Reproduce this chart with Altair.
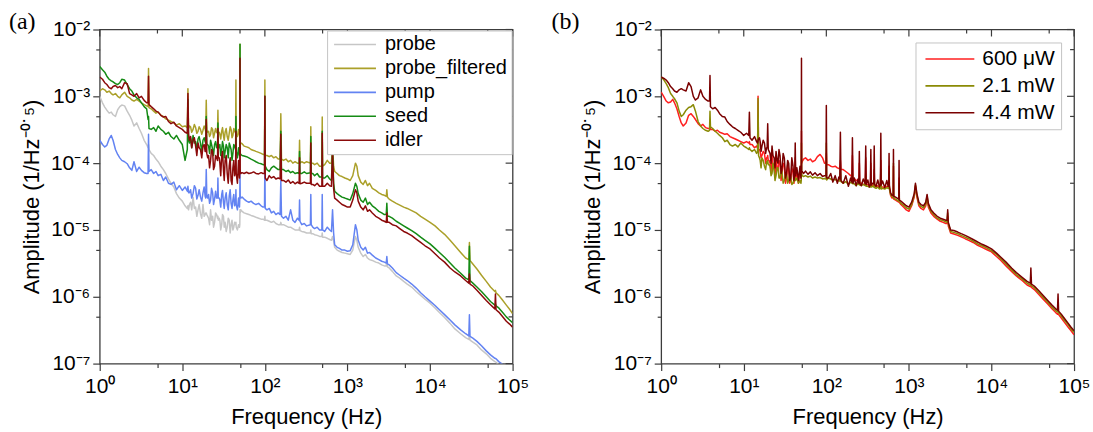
import altair as alt
import pandas as pd

# ---------------- panel (a) data ----------------
FREQ_A = [
    1, 1.08, 1.15, 1.22, 1.3, 1.38, 1.45, 1.55, 1.65, 1.75, 1.85, 2.0, 2.15, 2.3, 2.45, 2.6, 2.8, 3.0, 3.2, 3.45, 3.7,
    3.85, 3.9, 3.95,
    4.2, 4.5, 4.8, 5.1, 5.5, 5.9, 6.3, 6.8, 7.3, 7.9, 8.5, 9.2, 10, 10.8,
    11.5, 11.7, 11.9,
    12.2, 12.6, 13.0, 13.5, 14.0, 14.5, 15.0, 15.5, 16.0, 16.6, 17.2, 17.8, 18.4, 18.9,
    19.2, 19.5, 19.8,
    20.3, 20.8, 21.4, 22, 22.6, 23.3, 23.9, 24.6, 25.3, 26,
    26.7, 27, 27.3,
    28, 28.5, 29.2, 30, 30.7, 31.5, 32.2, 33, 34, 35, 36, 37, 38, 39, 40, 41, 42, 43,
    44.2, 44.6, 45,
    46.5, 48, 49.3,
    49.7, 50, 50.3,
    51, 53, 56, 60, 64, 68, 73, 78, 84, 90, 95,
    99, 100, 101,
    106, 113, 120, 128, 136, 145,
    153, 156, 159,
    168, 180, 192, 205, 218, 232, 248,
    260, 263, 266,
    280, 300, 320,
    356, 360, 364,
    380, 400, 430, 460,
    490, 495, 500,
    530, 570, 610,
    640, 660, 680,
    700, 750, 800, 860, 930, 1000, 1080, 1160, 1250,
    1300, 1350, 1450, 1550, 1650, 1750, 1850, 2000, 2200, 2400, 2600, 2800,
    2950, 3000, 3050,
    3200, 3500, 3900, 4300, 4800, 5300, 6000, 6800, 7700, 8700, 10000, 11500, 13000, 15000, 17500, 20000, 23500, 27000,
    29500, 30000, 30500,
    33000, 37000, 42000, 48000, 54000,
    61000, 62000, 63000,
    68000, 75000, 84000, 92000, 100000,
]

PROBE = [
    1.0e-3, 8.0e-4, 6.9e-4, 6.2e-4, 5.6e-4, 5.8e-4, 5.3e-4, 5.0e-4, 6.3e-4, 7.0e-4, 7.4e-4, 7.2e-4, 6.0e-4, 5.2e-4, 4.4e-4, 3.6e-4, 4.0e-4, 3.3e-4, 2.8e-4, 2.2e-4, 1.9e-4,
    1.7e-4, 1.9e-4, 1.6e-4,
    1.4e-4, 1.3e-4, 1.15e-4, 1.05e-4, 9.0e-5, 8.0e-5, 7.0e-5, 5.8e-5, 5.0e-5, 4.4e-5, 3.5e-5, 3.0e-5, 2.7e-5, 2.3e-5,
    2.1e-5, 2.3e-5, 2.0e-5,
    2.4e-5, 2.6e-5, 2.0e-5, 3.1e-5, 2.1e-5, 2.2e-5, 1.6e-5, 2.0e-5, 2.4e-5, 1.75e-5, 1.5e-5, 2.4e-5, 1.6e-5, 1.7e-5,
    1.8e-5, 1.8e-5, 1.7e-5,
    1.6e-5, 1.5e-5, 1.2e-5, 2.0e-5, 1.4e-5, 1.6e-5, 1.1e-5, 1.3e-5, 1.8e-5, 1.7e-5,
    1.5e-5, 1.6e-5, 1.4e-5,
    1.5e-5, 1.4e-5, 1.0e-5, 1.2e-5, 1.7e-5, 1.6e-5, 1.1e-5, 1.3e-5, 9.5e-6, 1.1e-5, 1.5e-5, 1.4e-5, 9.0e-6, 1.2e-5, 1.4e-5, 1.0e-5, 1.1e-5, 1.3e-5,
    1.2e-5, 1.3e-5, 1.1e-5,
    1.0e-5, 1.2e-5, 1.1e-5,
    1.2e-5, 2.0e-5, 1.8e-5,
    2.0e-5, 1.9e-5, 1.8e-5, 1.75e-5, 1.7e-5, 1.65e-5, 1.6e-5, 1.55e-5, 1.5e-5, 1.45e-5, 1.45e-5,
    1.4e-5, 1.6e-5, 1.4e-5,
    1.4e-5, 1.35e-5, 1.3e-5, 1.35e-5, 1.25e-5, 1.2e-5,
    1.2e-5, 1.3e-5, 1.2e-5,
    1.2e-5, 1.15e-5, 1.1e-5, 1.1e-5, 1.05e-5, 1.0e-5, 1.0e-5,
    1.0e-5, 1.1e-5, 9.8e-6,
    9.5e-6, 9.3e-6, 9.0e-6,
    9.0e-6, 1.0e-5, 8.8e-6,
    8.8e-6, 8.5e-6, 8.3e-6, 8.0e-6,
    8.0e-6, 9.0e-6, 7.8e-6,
    7.8e-6, 7.5e-6, 7.2e-6,
    7.0e-6, 8.0e-6, 6.8e-6,
    5.5e-6, 5.0e-6, 4.8e-6, 4.6e-6, 4.5e-6, 4.4e-6, 4.3e-6, 5.0e-6, 8.0e-6,
    7.0e-6, 5.5e-6, 4.5e-6, 4.0e-6, 4.3e-6, 3.8e-6, 3.6e-6, 3.5e-6, 3.3e-6, 3.2e-6, 3.0e-6, 2.9e-6,
    2.9e-6, 3.5e-6, 2.8e-6,
    2.7e-6, 2.4e-6, 2.05e-6, 1.9e-6, 1.7e-6, 1.55e-6, 1.4e-6, 1.2e-6, 1.05e-6, 9.2e-7, 8.0e-7, 6.8e-7, 5.8e-7, 4.9e-7, 4.0e-7, 3.3e-7, 2.8e-7, 2.45e-7,
    2.3e-7, 2.6e-7, 2.25e-7,
    2.1e-7, 1.9e-7, 1.6e-7, 1.4e-7, 1.2e-7,
    1.07e-7, 1.06e-7, 1.05e-7,
    9.6e-8, 8.8e-8, 7.9e-8, 7.2e-8, 6.6e-8,
]

PROBE_FILTERED = [
    1.2e-3, 1.3e-3, 1.25e-3, 1.15e-3, 1.2e-3, 1.1e-3, 1.05e-3, 1.1e-3, 1.0e-3, 9.5e-4, 1.05e-3, 1.15e-3, 1.0e-3, 9.5e-4, 8.8e-4, 8.5e-4, 9.0e-4, 8.5e-4, 8.0e-4, 7.5e-4, 7.2e-4,
    7.0e-4, 2.6e-3, 6.8e-4,
    6.5e-4, 6.0e-4, 5.6e-4, 5.8e-4, 5.2e-4, 5.0e-4, 4.6e-4, 4.4e-4, 4.2e-4, 4.0e-4, 3.7e-4, 3.9e-4, 3.5e-4, 3.6e-4,
    3.4e-4, 1.3e-3, 3.3e-4,
    3.6e-4, 3.5e-4, 2.9e-4, 3.2e-4, 3.8e-4, 3.4e-4, 2.8e-4, 3.0e-4, 3.5e-4, 3.2e-4, 2.7e-4, 3.1e-4, 3.6e-4, 3.3e-4,
    3.0e-4, 8.7e-4, 3.1e-4,
    2.9e-4, 3.0e-4, 2.5e-4, 2.7e-4, 3.4e-4, 3.2e-4, 2.4e-4, 2.8e-4, 3.3e-4, 2.9e-4,
    2.8e-4, 6.2e-4, 2.9e-4,
    2.9e-4, 2.7e-4, 2.3e-4, 3.0e-4, 3.4e-4, 2.6e-4, 2.2e-4, 2.9e-4, 3.3e-4, 2.5e-4, 2.2e-4, 2.8e-4, 3.5e-4, 3.2e-4, 2.4e-4, 2.6e-4, 3.3e-4, 3.0e-4,
    2.8e-4, 1.75e-3, 2.7e-4,
    2.5e-4, 3.2e-4, 2.6e-4,
    2.8e-4, 6.0e-3, 2.0e-4,
    2.0e-4, 1.95e-4, 1.8e-4, 1.75e-4, 1.7e-4, 1.6e-4, 1.55e-4, 1.5e-4, 1.45e-4, 1.4e-4, 1.35e-4,
    1.35e-4, 1.75e-3, 1.3e-4,
    1.3e-4, 1.25e-4, 1.3e-4, 1.2e-4, 1.25e-4, 1.15e-4,
    1.15e-4, 5.5e-4, 1.15e-4,
    1.1e-4, 1.15e-4, 1.05e-4, 1.1e-4, 1.0e-4, 1.05e-4, 1.0e-4,
    1.0e-4, 2.2e-4, 1.0e-4,
    1.05e-4, 1.0e-4, 1.05e-4,
    1.0e-4, 3.5e-4, 1.0e-4,
    1.0e-4, 9.5e-5, 1.0e-4, 9.0e-5,
    9.0e-5, 4.9e-4, 9.0e-5,
    9.5e-5, 1.1e-4, 1.0e-4,
    1.0e-4, 1.9e-4, 9.0e-5,
    7.5e-5, 7.0e-5, 6.5e-5, 6.3e-5, 6.0e-5, 5.8e-5, 5.5e-5, 6.5e-5, 1.0e-4,
    9.0e-5, 6.5e-5, 5.2e-5, 4.8e-5, 5.5e-5, 4.6e-5, 5.0e-5, 4.2e-5, 3.9e-5, 3.6e-5, 3.4e-5, 3.3e-5,
    3.2e-5, 4.0e-5, 3.1e-5,
    2.9e-5, 2.7e-5, 2.5e-5, 2.35e-5, 2.2e-5, 2.1e-5, 1.95e-5, 1.8e-5, 1.6e-5, 1.45e-5, 1.3e-5, 1.15e-5, 1.0e-5, 8.6e-6, 7.0e-6, 5.8e-6, 4.6e-6, 3.8e-6,
    3.6e-6, 6.5e-6, 3.5e-6,
    3.1e-6, 2.6e-6, 2.1e-6, 1.7e-6, 1.4e-6,
    1.2e-6, 1.25e-6, 1.15e-6,
    1.05e-6, 9.0e-7, 7.5e-7, 6.5e-7, 5.6e-7,
]

PUMP = [
    2.2e-4, 1.9e-4, 1.75e-4, 1.85e-4, 2.3e-4, 2.6e-4, 2.2e-4, 1.6e-4, 1.35e-4, 1.2e-4, 1.1e-4, 1.05e-4, 9.8e-5, 8.5e-5, 7.8e-5, 1.05e-4, 7.5e-5, 8.7e-5, 7.8e-5, 7.2e-5, 7.0e-5,
    7.0e-5, 2.7e-4, 7.5e-5,
    8.0e-5, 7.0e-5, 7.5e-5, 6.5e-5, 6.8e-5, 5.5e-5, 6.2e-5, 5.0e-5, 4.8e-5, 5.2e-5, 4.0e-5, 4.6e-5, 3.9e-5, 4.4e-5,
    3.8e-5, 4.5e-5, 3.6e-5,
    3.6e-5, 4.0e-5, 3.0e-5, 3.5e-5, 4.6e-5, 4.2e-5, 2.9e-5, 3.3e-5, 4.0e-5, 3.1e-5, 2.7e-5, 3.6e-5, 4.4e-5, 3.2e-5,
    3.0e-5, 8.0e-5, 3.2e-5,
    3.0e-5, 3.4e-5, 2.5e-5, 2.8e-5, 4.2e-5, 3.6e-5, 2.4e-5, 2.9e-5, 3.8e-5, 3.0e-5,
    3.0e-5, 6.0e-5, 3.0e-5,
    3.0e-5, 2.8e-5, 2.2e-5, 3.4e-5, 3.9e-5, 2.6e-5, 2.1e-5, 3.0e-5, 3.6e-5, 2.4e-5, 2.0e-5, 3.2e-5, 4.0e-5, 2.5e-5, 2.1e-5, 2.8e-5, 3.4e-5, 2.3e-5,
    2.6e-5, 4.0e-5, 2.4e-5,
    2.0e-5, 3.0e-5, 2.2e-5,
    3.0e-5, 8.0e-5, 3.2e-5,
    3.0e-5, 3.1e-5, 2.9e-5, 2.7e-5, 2.6e-5, 2.7e-5, 2.5e-5, 2.4e-5, 2.5e-5, 2.3e-5, 2.2e-5,
    2.2e-5, 1.0e-4, 2.1e-5,
    2.0e-5, 2.1e-5, 1.8e-5, 1.9e-5, 1.7e-5, 1.8e-5,
    1.7e-5, 5.5e-5, 1.6e-5,
    1.5e-5, 1.6e-5, 1.4e-5, 2.0e-5, 1.4e-5, 1.3e-5, 1.5e-5,
    1.4e-5, 2.8e-5, 1.35e-5,
    1.2e-5, 1.25e-5, 1.15e-5,
    1.2e-5, 3.4e-5, 1.2e-5,
    1.1e-5, 1.05e-5, 1.1e-5, 1.0e-5,
    1.0e-5, 3.4e-5, 1.0e-5,
    9.5e-6, 1.1e-5, 1.0e-5,
    9.5e-6, 2.0e-5, 9.0e-6,
    6.0e-6, 5.5e-6, 5.3e-6, 5.0e-6, 5.0e-6, 4.8e-6, 4.9e-6, 6.0e-6, 1.2e-5,
    1.0e-5, 7.0e-6, 5.5e-6, 5.0e-6, 5.5e-6, 4.5e-6, 4.6e-6, 4.2e-6, 3.8e-6, 3.6e-6, 3.4e-6, 3.3e-6,
    3.2e-6, 4.0e-6, 3.1e-6,
    3.0e-6, 2.7e-6, 2.3e-6, 2.1e-6, 1.9e-6, 1.75e-6, 1.55e-6, 1.35e-6, 1.15e-6, 1.0e-6, 8.6e-7, 7.4e-7, 6.4e-7, 5.4e-7, 4.5e-7, 3.8e-7, 3.2e-7, 2.8e-7,
    2.6e-7, 5.4e-7, 2.55e-7,
    2.4e-7, 2.15e-7, 1.85e-7, 1.55e-7, 1.35e-7,
    1.2e-7, 1.19e-7, 1.18e-7,
    1.07e-7, 9.8e-8, 8.8e-8, 8.0e-8, 7.4e-8,
]

SEED = [
    2.8e-3, 2.5e-3, 2.3e-3, 2.0e-3, 1.8e-3, 1.7e-3, 1.65e-3, 1.55e-3, 1.5e-3, 1.6e-3, 1.8e-3, 1.75e-3, 1.5e-3, 1.3e-3, 1.2e-3, 1.05e-3, 9.5e-4, 9.0e-4, 8.0e-4, 7.0e-4, 6.5e-4,
    4.5e-4, 5.0e-4, 3.3e-4,
    3.2e-4, 3.4e-4, 3.0e-4, 3.6e-4, 3.2e-4, 3.0e-4, 2.7e-4, 2.9e-4, 2.5e-4, 2.3e-4, 2.6e-4, 2.2e-4, 1.9e-4, 1.1e-4,
    1.6e-4, 9.0e-4, 2.2e-4,
    2.0e-4, 2.4e-4, 1.7e-4, 2.6e-4, 2.0e-4, 2.1e-4, 1.6e-4, 2.3e-4, 2.5e-4, 2.0e-4, 1.5e-4, 2.2e-4, 2.4e-4, 2.1e-4,
    2.0e-4, 5.0e-4, 1.9e-4,
    1.9e-4, 1.8e-4, 1.4e-4, 2.2e-4, 1.9e-4, 1.6e-4, 1.3e-4, 1.9e-4, 2.1e-4, 1.7e-4,
    1.7e-4, 4.0e-4, 1.8e-4,
    1.7e-4, 1.9e-4, 1.3e-4, 1.6e-4, 2.1e-4, 1.8e-4, 1.2e-4, 1.5e-4, 1.9e-4, 1.7e-4, 1.2e-4, 2.0e-4, 1.8e-4, 1.6e-4, 1.1e-4, 1.4e-4, 1.9e-4, 1.8e-4,
    1.6e-4, 5.0e-4, 1.5e-4,
    1.2e-4, 1.7e-4, 1.3e-4,
    1.6e-4, 6.0e-3, 1.4e-4,
    1.35e-4, 1.3e-4, 1.28e-4, 1.25e-4, 1.2e-4, 1.15e-4, 1.1e-4, 1.05e-4, 1.0e-4, 9.8e-5, 9.5e-5,
    9.5e-5, 1.0e-3, 9.0e-5,
    8.0e-5, 7.5e-5, 8.5e-5, 9.0e-5, 8.5e-5, 8.0e-5,
    8.0e-5, 3.0e-4, 8.0e-5,
    8.0e-5, 7.5e-5, 7.8e-5, 7.2e-5, 7.5e-5, 7.0e-5, 7.2e-5,
    7.0e-5, 1.5e-4, 7.0e-5,
    7.0e-5, 7.4e-5, 7.0e-5,
    7.2e-5, 2.5e-4, 7.0e-5,
    7.0e-5, 6.5e-5, 7.0e-5, 6.2e-5,
    6.2e-5, 3.0e-4, 6.0e-5,
    6.0e-5, 6.5e-5, 5.8e-5,
    5.5e-5, 1.6e-4, 5.0e-5,
    3.8e-5, 3.5e-5, 3.3e-5, 3.1e-5, 3.0e-5, 2.9e-5, 2.8e-5, 3.5e-5, 5.0e-5,
    4.5e-5, 3.5e-5, 2.8e-5, 2.6e-5, 3.0e-5, 2.4e-5, 2.6e-5, 2.3e-5, 2.1e-5, 1.9e-5, 1.8e-5, 1.7e-5,
    1.7e-5, 2.5e-5, 1.6e-5,
    1.6e-5, 1.5e-5, 1.35e-5, 1.25e-5, 1.15e-5, 1.07e-5, 9.8e-6, 8.8e-6, 7.8e-6, 7.0e-6, 6.2e-6, 5.3e-6, 4.6e-6, 3.9e-6, 3.2e-6, 2.7e-6, 2.25e-6, 1.9e-6,
    1.8e-6, 5.7e-6, 1.75e-6,
    1.6e-6, 1.4e-6, 1.2e-6, 1.0e-6, 8.5e-7,
    7.5e-7, 7.8e-7, 7.3e-7,
    6.8e-7, 5.9e-7, 5.0e-7, 4.5e-7, 4.1e-7,
]

IDLER = [
    1.95e-3, 1.8e-3, 1.6e-3, 1.5e-3, 1.35e-3, 1.3e-3, 1.4e-3, 1.45e-3, 1.35e-3, 1.4e-3, 1.3e-3, 1.6e-3, 1.55e-3, 1.1e-3, 1.05e-3, 1.0e-3, 1.1e-3, 9.5e-4, 1.0e-3, 8.7e-4, 8.0e-4,
    8.0e-4, 2.0e-3, 7.5e-4,
    7.0e-4, 6.5e-4, 6.0e-4, 5.8e-4, 5.2e-4, 4.9e-4, 5.0e-4, 4.2e-4, 3.9e-4, 4.1e-4, 3.6e-4, 3.4e-4, 3.2e-4, 2.9e-4,
    2.8e-4, 1.1e-3, 2.7e-4,
    2.2e-4, 2.5e-4, 1.7e-4, 2.2e-4, 2.4e-4, 1.8e-4, 1.3e-4, 2.0e-4, 1.7e-4, 1.6e-4, 1.2e-4, 1.8e-4, 1.9e-4, 1.5e-4,
    1.5e-4, 4.5e-4, 1.4e-4,
    1.2e-4, 1.3e-4, 8.5e-5, 1.1e-4, 1.6e-4, 1.5e-4, 8.0e-5, 9.0e-5, 1.3e-4, 1.2e-4,
    1.1e-4, 3.3e-4, 1.2e-4,
    1.2e-4, 1.0e-4, 6.5e-5, 1.3e-4, 1.5e-4, 8.0e-5, 5.5e-5, 1.1e-4, 1.3e-4, 7.0e-5, 5.0e-5, 9.0e-5, 1.2e-4, 5.5e-5, 4.8e-5, 8.5e-5, 1.1e-4, 6.5e-5,
    8.0e-5, 3.0e-4, 7.0e-5,
    5.0e-5, 1.1e-4, 6.0e-5,
    9.0e-5, 3.7e-3, 7.5e-5,
    7.0e-5, 7.2e-5, 7.0e-5, 7.3e-5, 7.0e-5, 7.1e-5, 7.4e-5, 7.0e-5, 6.9e-5, 7.2e-5, 7.0e-5,
    7.0e-5, 1.0e-3, 6.0e-5,
    5.5e-5, 6.5e-5, 6.0e-5, 6.3e-5, 5.8e-5, 6.0e-5,
    5.8e-5, 2.7e-4, 5.5e-5,
    5.5e-5, 5.2e-5, 5.6e-5, 5.0e-5, 5.3e-5, 4.9e-5, 5.2e-5,
    5.0e-5, 1.2e-4, 4.9e-5,
    5.0e-5, 5.2e-5, 5.0e-5,
    5.0e-5, 2.0e-4, 4.8e-5,
    4.8e-5, 4.6e-5, 5.0e-5, 4.5e-5,
    4.5e-5, 2.8e-4, 4.5e-5,
    4.5e-5, 5.0e-5, 4.6e-5,
    4.5e-5, 1.5e-4, 4.2e-5,
    3.0e-5, 2.8e-5, 2.6e-5, 2.4e-5, 2.3e-5, 2.2e-5, 2.2e-5, 2.8e-5, 4.0e-5,
    3.6e-5, 2.7e-5, 2.2e-5, 2.0e-5, 2.3e-5, 1.9e-5, 2.0e-5, 1.8e-5, 1.6e-5, 1.5e-5, 1.4e-5, 1.35e-5,
    1.3e-5, 1.8e-5, 1.3e-5,
    1.3e-5, 1.2e-5, 1.15e-5, 1.05e-5, 9.5e-6, 9.0e-6, 8.2e-6, 7.3e-6, 6.5e-6, 5.8e-6, 5.2e-6, 4.4e-6, 3.8e-6, 3.3e-6, 2.7e-6, 2.35e-6, 2.05e-6, 1.75e-6,
    1.6e-6, 2.2e-6, 1.55e-6,
    1.45e-6, 1.25e-6, 1.05e-6, 8.8e-7, 7.6e-7,
    6.6e-7, 1.1e-6, 6.4e-7,
    5.9e-7, 5.1e-7, 4.3e-7, 3.9e-7, 3.5e-7,
]

# ---------------- panel (b) data ----------------
FREQ_B = [
    1, 1.08, 1.15, 1.22, 1.3, 1.38, 1.45, 1.55, 1.65, 1.75, 1.85, 2.0, 2.15, 2.3, 2.45, 2.6, 2.8, 3.0, 3.2, 3.45, 3.7,
    3.85, 3.9, 3.95,
    4.2, 4.5, 4.8, 5.1, 5.5, 5.9, 6.3, 6.8, 7.3, 7.9, 8.5, 9.2, 10, 10.8,
    11.5, 11.7, 11.9,
    12.6, 13.5, 14.3,
    14.7, 14.9, 15.1,
    15.5, 15.8, 16.2, 16.6, 17.2, 17.8, 18.4, 18.9,
    19.2, 19.5, 19.8,
    20.3, 20.8, 21.4, 22, 22.6, 23.3, 23.9, 24.6, 25.3, 26, 26.7, 27.5, 28.3, 29, 30, 31, 32, 33, 34, 35, 36, 37, 38.2, 39.5, 40.5,
    41.5, 42, 42.5,
    44, 46, 48, 49.3,
    49.7, 50, 50.3,
    51, 53, 56, 60, 64, 68, 73, 78, 84, 90, 95,
    99, 100, 101,
    106, 113, 120, 128, 136, 142,
    145.5, 148, 150.5,
    160, 172, 185, 197,
    204, 207, 210,
    218, 230, 242,
    248, 251, 254,
    265, 280,
    296, 300, 304,
    318, 332,
    342, 346, 350,
    362,
    376, 380, 384,
    400, 420, 440,
    452, 457, 462,
    480, 510, 540, 560,
    570, 575, 580,
    600, 625,
    645, 650, 655,
    690, 720,
    754, 760, 766,
    800, 860, 930, 1000, 1080, 1160, 1200, 1250, 1320, 1400, 1500, 1600, 1660, 1720, 1850, 2000, 2200, 2400, 2600, 2800,
    2900, 2950, 3000,
    3200, 3500, 3900, 4300, 4800, 5300, 6000, 6800, 7700, 8700, 10000, 11500, 13000, 15000, 17500, 20000, 23500, 27000,
    29500, 30000, 30500,
    33000, 37000, 42000, 48000, 54000, 60000,
    63000, 64000, 65000,
    70000, 77000, 85000, 92000, 100000,
]

P_600UW = [
    1.16e-3, 9.8e-4, 8.5e-4, 8.0e-4, 8.2e-4, 9.0e-4, 8.0e-4, 6.5e-4, 5.0e-4, 4.0e-4, 3.6e-4, 4.0e-4, 5.2e-4, 5.5e-4, 5.0e-4, 4.5e-4, 3.9e-4, 3.6e-4, 3.8e-4, 3.4e-4, 3.3e-4,
    3.3e-4, 3.5e-4, 3.2e-4,
    3.2e-4, 3.0e-4, 3.1e-4, 2.9e-4, 2.8e-4, 2.7e-4, 2.75e-4, 2.5e-4, 2.4e-4, 2.3e-4, 2.2e-4, 2.1e-4, 2.0e-4, 2.1e-4,
    2.0e-4, 2.1e-4, 1.9e-4,
    1.9e-4, 1.7e-4, 1.8e-4,
    1.7e-4, 1.0e-3, 1.6e-4,
    1.6e-4, 1.5e-4, 1.2e-4, 1.3e-4, 1.5e-4, 1.4e-4, 1.0e-4, 1.2e-4,
    1.2e-4, 1.3e-4, 1.1e-4,
    1.1e-4, 1.0e-4, 7.5e-5, 1.3e-4, 9.0e-5, 9.0e-5, 6.5e-5, 1.2e-4, 8.0e-5, 8.0e-5, 1.1e-4, 1.0e-4, 5.5e-5, 7.0e-5, 1.0e-4, 9.0e-5, 5.0e-5, 6.0e-5, 9.5e-5, 8.0e-5, 5.0e-5, 5.5e-5, 8.5e-5, 7.5e-5, 5.0e-5,
    6.0e-5, 1.2e-4, 6.0e-5,
    7.0e-5, 5.0e-5, 8.0e-5, 6.0e-5,
    7.0e-5, 3.0e-4, 1.0e-4,
    1.05e-4, 1.15e-4, 1.2e-4, 1.1e-4, 1.15e-4, 1.05e-4, 1.1e-4, 1.25e-4, 1.35e-4, 1.2e-4, 1.0e-4,
    1.0e-4, 1.4e-4, 9.5e-5,
    9.5e-5, 9.0e-5, 8.8e-5, 9.0e-5, 8.5e-5, 8.3e-5,
    8.3e-5, 1.1e-4, 8.0e-5,
    8.0e-5, 7.5e-5, 7.0e-5, 6.5e-5,
    6.3e-5, 1.3e-4, 6.0e-5,
    5.8e-5, 5.5e-5, 5.6e-5,
    5.4e-5, 1.0e-4, 5.2e-5,
    5.0e-5, 4.8e-5,
    4.8e-5, 1.2e-4, 4.7e-5,
    4.8e-5, 4.6e-5,
    4.6e-5, 1.0e-4, 4.6e-5,
    4.7e-5,
    4.6e-5, 8.0e-5, 4.5e-5,
    4.4e-5, 4.6e-5, 4.3e-5,
    4.5e-5, 1.1e-4, 4.4e-5,
    4.4e-5, 4.3e-5, 4.5e-5, 4.4e-5,
    4.4e-5, 9.0e-5, 4.3e-5,
    3.3e-5, 3.0e-5,
    3.0e-5, 9.0e-5, 2.9e-5,
    2.8e-5, 2.7e-5,
    2.6e-5, 6.0e-5, 2.6e-5,
    2.4e-5, 2.2e-5, 2.0e-5, 1.9e-5, 2.3e-5, 3.1e-5, 4.5e-5, 3.1e-5, 2.3e-5, 2.1e-5, 2.0e-5, 2.3e-5, 3.0e-5, 2.2e-5, 1.8e-5, 1.6e-5, 1.45e-5, 1.35e-5, 1.3e-5, 1.25e-5,
    1.25e-5, 1.6e-5, 1.15e-5,
    9.0e-6, 8.7e-6, 8.3e-6, 7.9e-6, 7.4e-6, 7.0e-6, 6.5e-6, 5.9e-6, 5.5e-6, 5.1e-6, 4.7e-6, 4.0e-6, 3.5e-6, 2.9e-6, 2.4e-6, 2.05e-6, 1.75e-6, 1.5e-6,
    1.42e-6, 1.5e-6, 1.38e-6,
    1.28e-6, 1.1e-6, 9.3e-7, 7.8e-7, 6.6e-7, 5.8e-7,
    5.5e-7, 5.6e-7, 5.4e-7,
    4.8e-7, 4.1e-7, 3.5e-7, 3.1e-7, 2.7e-7,
]

P_2_1MW = [
    1.95e-3, 1.75e-3, 1.55e-3, 1.35e-3, 1.1e-3, 1.0e-3, 9.2e-4, 8.0e-4, 6.0e-4, 5.0e-4, 5.3e-4, 6.2e-4, 6.8e-4, 7.0e-4, 7.5e-4, 6.0e-4, 4.2e-4, 3.6e-4, 3.3e-4, 3.1e-4, 3.0e-4,
    3.1e-4, 6.0e-4, 3.5e-4,
    3.3e-4, 3.0e-4, 2.8e-4, 2.6e-4, 2.4e-4, 2.1e-4, 2.2e-4, 1.9e-4, 1.8e-4, 1.9e-4, 1.75e-4, 2.0e-4, 1.8e-4, 1.7e-4,
    1.6e-4, 1.7e-4, 1.6e-4,
    1.5e-4, 1.6e-4, 1.4e-4,
    1.5e-4, 9.3e-4, 1.3e-4,
    1.2e-4, 1.1e-4, 8.5e-5, 1.2e-4, 1.1e-4, 9.0e-5, 8.0e-5, 1.05e-4,
    1.0e-4, 1.1e-4, 9.5e-5,
    9.5e-5, 9.0e-5, 6.5e-5, 7.0e-5, 1.0e-4, 8.0e-5, 5.5e-5, 6.5e-5, 8.5e-5, 8.5e-5, 6.0e-5, 6.0e-5, 8.0e-5, 7.5e-5, 5.0e-5, 5.5e-5, 7.0e-5, 7.0e-5, 5.0e-5, 5.5e-5, 6.5e-5, 6.5e-5, 4.8e-5, 5.0e-5, 5.5e-5,
    5.5e-5, 6.0e-5, 5.5e-5,
    6.0e-5, 5.0e-5, 5.5e-5, 5.0e-5,
    5.5e-5, 2.0e-4, 7.0e-5,
    6.5e-5, 6.3e-5, 6.5e-5, 6.2e-5, 6.4e-5, 6.0e-5, 6.2e-5, 6.0e-5, 6.1e-5, 5.8e-5, 5.9e-5,
    5.8e-5, 2.0e-4, 5.6e-5,
    6.0e-5, 5.8e-5, 5.6e-5, 5.7e-5, 5.5e-5, 5.4e-5,
    5.4e-5, 8.0e-5, 5.3e-5,
    5.0e-5, 5.3e-5, 4.8e-5, 5.2e-5,
    5.0e-5, 7.0e-5, 4.9e-5,
    4.9e-5, 4.6e-5, 5.0e-5,
    4.8e-5, 6.0e-5, 4.7e-5,
    4.6e-5, 4.8e-5,
    4.6e-5, 7.0e-5, 4.5e-5,
    4.5e-5, 4.4e-5,
    4.4e-5, 5.5e-5, 4.4e-5,
    4.5e-5,
    4.4e-5, 6.0e-5, 4.3e-5,
    4.2e-5, 4.4e-5, 4.1e-5,
    4.2e-5, 8.0e-5, 4.1e-5,
    4.2e-5, 4.1e-5, 4.3e-5, 4.2e-5,
    4.2e-5, 7.0e-5, 4.1e-5,
    3.4e-5, 3.2e-5,
    3.1e-5, 1.0e-4, 3.0e-5,
    2.9e-5, 2.8e-5,
    2.7e-5, 5.0e-5, 2.7e-5,
    2.5e-5, 2.35e-5, 2.15e-5, 2.05e-5, 2.4e-5, 3.3e-5, 4.7e-5, 3.3e-5, 2.45e-5, 2.25e-5, 2.15e-5, 2.45e-5, 3.2e-5, 2.35e-5, 1.9e-5, 1.7e-5, 1.5e-5, 1.42e-5, 1.38e-5, 1.32e-5,
    1.32e-5, 1.8e-5, 1.25e-5,
    9.5e-6, 9.2e-6, 8.8e-6, 8.3e-6, 7.8e-6, 7.4e-6, 6.8e-6, 6.2e-6, 5.8e-6, 5.4e-6, 4.9e-6, 4.3e-6, 3.7e-6, 3.1e-6, 2.55e-6, 2.15e-6, 1.85e-6, 1.6e-6,
    1.5e-6, 1.6e-6, 1.47e-6,
    1.37e-6, 1.17e-6, 9.9e-7, 8.3e-7, 7.0e-7, 6.2e-7,
    5.9e-7, 6.0e-7, 5.8e-7,
    5.2e-7, 4.4e-7, 3.8e-7, 3.3e-7, 2.95e-7,
]

P_4_4MW = [
    1.95e-3, 1.85e-3, 1.75e-3, 1.6e-3, 1.4e-3, 1.3e-3, 1.2e-3, 1.15e-3, 1.25e-3, 1.3e-3, 1.25e-3, 1.2e-3, 1.6e-3, 1.4e-3, 1.0e-3, 8.8e-4, 9.5e-4, 1.25e-3, 1.0e-3, 9.0e-4, 8.5e-4,
    8.5e-4, 2.05e-3, 7.0e-4,
    6.5e-4, 6.8e-4, 6.2e-4, 5.5e-4, 5.0e-4, 4.9e-4, 4.2e-4, 3.8e-4, 3.5e-4, 3.3e-4, 3.1e-4, 2.9e-4, 2.6e-4, 2.8e-4,
    2.6e-4, 5.8e-4, 2.4e-4,
    2.2e-4, 2.5e-4, 2.1e-4,
    2.0e-4, 2.2e-4, 2.3e-4,
    2.4e-4, 2.1e-4, 1.5e-4, 1.8e-4, 2.2e-4, 2.0e-4, 1.4e-4, 1.7e-4,
    1.7e-4, 3.9e-4, 1.6e-4,
    1.5e-4, 1.4e-4, 1.0e-4, 1.8e-4, 1.3e-4, 1.2e-4, 8.5e-5, 1.5e-4, 1.1e-4, 1.0e-4, 1.6e-4, 1.3e-4, 7.0e-5, 8.0e-5, 1.4e-4, 1.2e-4, 6.0e-5, 7.0e-5, 1.1e-4, 1.0e-4, 5.5e-5, 6.0e-5, 1.2e-4, 9.0e-5, 5.5e-5,
    7.0e-5, 2.0e-4, 6.5e-5,
    8.5e-5, 5.5e-5, 9.0e-5, 6.0e-5,
    8.0e-5, 3.7e-3, 7.5e-5,
    7.5e-5, 7.0e-5, 7.6e-5, 6.8e-5, 7.4e-5, 6.6e-5, 7.2e-5, 6.5e-5, 7.0e-5, 6.3e-5, 6.5e-5,
    6.5e-5, 7.3e-4, 6.0e-5,
    6.0e-5, 7.0e-5, 5.2e-5, 6.5e-5, 5.0e-5, 6.2e-5,
    5.8e-5, 2.9e-4, 5.5e-5,
    5.0e-5, 6.5e-5, 4.5e-5, 6.0e-5,
    5.2e-5, 2.4e-4, 5.0e-5,
    6.0e-5, 4.6e-5, 5.8e-5,
    5.0e-5, 1.5e-4, 5.0e-5,
    4.6e-5, 5.8e-5,
    4.9e-5, 1.8e-4, 4.8e-5,
    5.6e-5, 4.4e-5,
    4.8e-5, 1.6e-4, 4.7e-5,
    5.0e-5,
    4.9e-5, 1.8e-4, 4.8e-5,
    4.5e-5, 5.6e-5, 4.4e-5,
    4.8e-5, 2.8e-4, 4.7e-5,
    5.4e-5, 4.3e-5, 5.5e-5, 4.5e-5,
    4.8e-5, 1.4e-4, 4.6e-5,
    3.6e-5, 3.3e-5,
    3.3e-5, 1.6e-4, 3.2e-5,
    3.1e-5, 3.0e-5,
    2.9e-5, 1.1e-4, 2.8e-5,
    2.7e-5, 2.5e-5, 2.3e-5, 2.2e-5, 2.6e-5, 3.5e-5, 5.0e-5, 3.5e-5, 2.6e-5, 2.4e-5, 2.3e-5, 2.6e-5, 3.4e-5, 2.5e-5, 2.0e-5, 1.8e-5, 1.6e-5, 1.5e-5, 1.45e-5, 1.4e-5,
    1.4e-5, 2.0e-5, 1.3e-5,
    1.0e-5, 9.8e-6, 9.3e-6, 8.8e-6, 8.3e-6, 7.8e-6, 7.2e-6, 6.6e-6, 6.1e-6, 5.7e-6, 5.2e-6, 4.5e-6, 3.9e-6, 3.3e-6, 2.7e-6, 2.3e-6, 1.95e-6, 1.7e-6,
    1.6e-6, 2.7e-6, 1.55e-6,
    1.45e-6, 1.25e-6, 1.05e-6, 8.8e-7, 7.5e-7, 6.6e-7,
    6.3e-7, 1.1e-6, 6.1e-7,
    5.5e-7, 4.7e-7, 4.0e-7, 3.5e-7, 3.1e-7,
]

SERIES_A = ["probe", "probe_filtered", "pump", "seed", "idler"]
COLORS_A = ["#C6C6C6", "#ABA02A", "#6383F2", "#158B15", "#8B0A0A"]
VALUES_A = [PROBE, PROBE_FILTERED, PUMP, SEED, IDLER]

SERIES_B = ["600 \u03bcW", "2.1 mW", "4.4 mW"]
COLORS_B = ["#FF1F1F", "#8A8A05", "#7A0000"]
VALUES_B = [P_600UW, P_2_1MW, P_4_4MW]

X_TICKS = [1, 5, 10, 50, 100, 500, 1000, 5000, 10000, 50000, 100000]
Y_TICKS = [1e-7, 5e-7, 1e-6, 5e-6, 1e-5, 5e-5, 1e-4, 5e-4, 1e-3, 5e-3, 1e-2]
X_EXPS = [0, 1, 2, 3, 4, 5]
Y_EXPS = [-7, -6, -5, -4, -3, -2]

for name, f, vals in [("a", FREQ_A, VALUES_A), ("b", FREQ_B, VALUES_B)]:
    for v in vals:
        if len(v) != len(f):
            raise ValueError(f"panel {name}: length {len(v)} != {len(f)}")


def long_df(freq, names, values):
    rows = []
    for n, vals in zip(names, values):
        for f, a in zip(freq, vals):
            rows.append({"freq": f, "amp": a, "series": n})
    return pd.DataFrame(rows)


df_a = long_df(FREQ_A, SERIES_A, VALUES_A)
df_b = long_df(FREQ_B, SERIES_B, VALUES_B)

FONT = "Liberation Sans"
AXC = "#3C3C3C"
W, H = 414, 335
MAJ_LEN, MIN_LEN = 7, 4

SUP = {0: "\u2070", 1: "\u00b9", 2: "\u00b2", 3: "\u00b3", 4: "\u2074", 5: "\u2075",
       6: "\u2076", 7: "\u2077"}


def sup(k):
    s = "\u207b" if k < 0 else ""
    return s + SUP[abs(k)]


def major_test(field):
    return f"abs(log({field})/LN10-round(log({field})/LN10))<0.01"


def label_expr(exps):
    e = "round(log(datum.value)/LN10)"
    chain = "''"
    for k in reversed(exps):
        chain = f"({e}=={k})?'10{sup(k)}':({chain})"
    return f"({major_test('datum.value')})?({chain}):''"


tick_size = {"condition": {"test": major_test("datum.value"), "value": MAJ_LEN}, "value": MIN_LEN}

x_scale = alt.Scale(type="log", domain=[1, 1e5], nice=False)
y_scale = alt.Scale(type="log", domain=[1e-7, 1e-2], nice=False)

common_axis = dict(
    domain=False, grid=False, tickColor=AXC, tickWidth=1.2, tickSize=tick_size,
    labelFont=FONT, labelFontSize=21, labelColor="black", labelOverlap=False,
    labelFlush=False, titleFont=FONT, titleFontSize=22, titleFontWeight="normal",
    titleColor="black",
)
x_axis = alt.Axis(values=X_TICKS, labelExpr=label_expr(X_EXPS), labelPadding=5,
                  title="Frequency (Hz)", titlePadding=10, **common_axis)
y_axis = alt.Axis(values=Y_TICKS, labelExpr=label_expr(Y_EXPS), labelPadding=3,
                  title="Amplitude (1/Hz\u207b\u2070\u02d9\u2075)", titlePadding=7, **common_axis)

ticks_x_df = pd.DataFrame({"t": X_TICKS})
ticks_y_df = pd.DataFrame({"t": Y_TICKS})


def mirror_layers():
    layers = []
    for is_major, length in [(True, MAJ_LEN), (False, MIN_LEN)]:
        test = major_test("datum.t")
        if not is_major:
            test = f"!({test})"
        top = alt.Chart(ticks_x_df).mark_rule(color=AXC, strokeWidth=1.2).encode(
            x=alt.X("t:Q", scale=x_scale, axis=x_axis),
            y=alt.value(0), y2=alt.value(length),
        ).transform_filter(test)
        right = alt.Chart(ticks_y_df).mark_rule(color=AXC, strokeWidth=1.2).encode(
            y=alt.Y("t:Q", scale=y_scale, axis=y_axis),
            x=alt.value(W - length), x2=alt.value(W),
        ).transform_filter(test)
        layers += [top, right]
    return layers


def panel(df, names, colors, legend, label, label_dx):
    color = alt.Color("series:N", scale=alt.Scale(domain=names, range=colors), legend=legend)
    base = alt.Chart(df).mark_line(strokeWidth=1.5, clip=True, strokeJoin="round").encode(
        x=alt.X("freq:Q", scale=x_scale, axis=x_axis),
        y=alt.Y("amp:Q", scale=y_scale, axis=y_axis),
        color=color,
    )
    lines = [base.transform_filter(alt.datum.series == n) for n in names]
    txt = alt.Chart(pd.DataFrame({"label": [label]})).mark_text(
        font="Liberation Serif", fontSize=24, align="left", baseline="top", color="black"
    ).encode(text="label:N", x=alt.value(label_dx), y=alt.value(-20))
    return alt.layer(*lines, *mirror_layers(), txt).properties(width=W, height=H)


legend_a = alt.Legend(
    title=None, orient="top-right", offset=1, fillColor="white", strokeColor="#C4C4C4",
    padding=4, rowPadding=4, labelFont=FONT, labelFontSize=20, labelColor="black",
    symbolType="M-3,0H3", symbolSize=196, symbolStrokeWidth=1.6, symbolOffset=14,
    labelOffset=20, labelLimit=400,
)
legend_b = alt.Legend(
    title=None, orient="top-right", offset=13, fillColor="white", strokeColor="#C4C4C4",
    padding=6, rowPadding=5, labelFont=FONT, labelFontSize=21, labelColor="black",
    symbolType="M-3.5,0H3.5", symbolSize=196, symbolStrokeWidth=1.6, symbolOffset=18,
    labelOffset=22, labelLimit=400,
)

pa = panel(df_a, SERIES_A, COLORS_A, legend_a, "(a)", -91)
pb = panel(df_b, SERIES_B, COLORS_B, legend_b, "(b)", -110)

chart = alt.hconcat(pa, pb, spacing=149, bounds="flush").resolve_scale(
    color="independent"
).resolve_legend(color="independent").configure_view(
    stroke=AXC, strokeWidth=1.3
).properties(padding={"left": 8, "top": 8, "right": 2, "bottom": 2}, background="white")

chart.save("out.html", embed_options={"renderer": "svg", "actions": False})
